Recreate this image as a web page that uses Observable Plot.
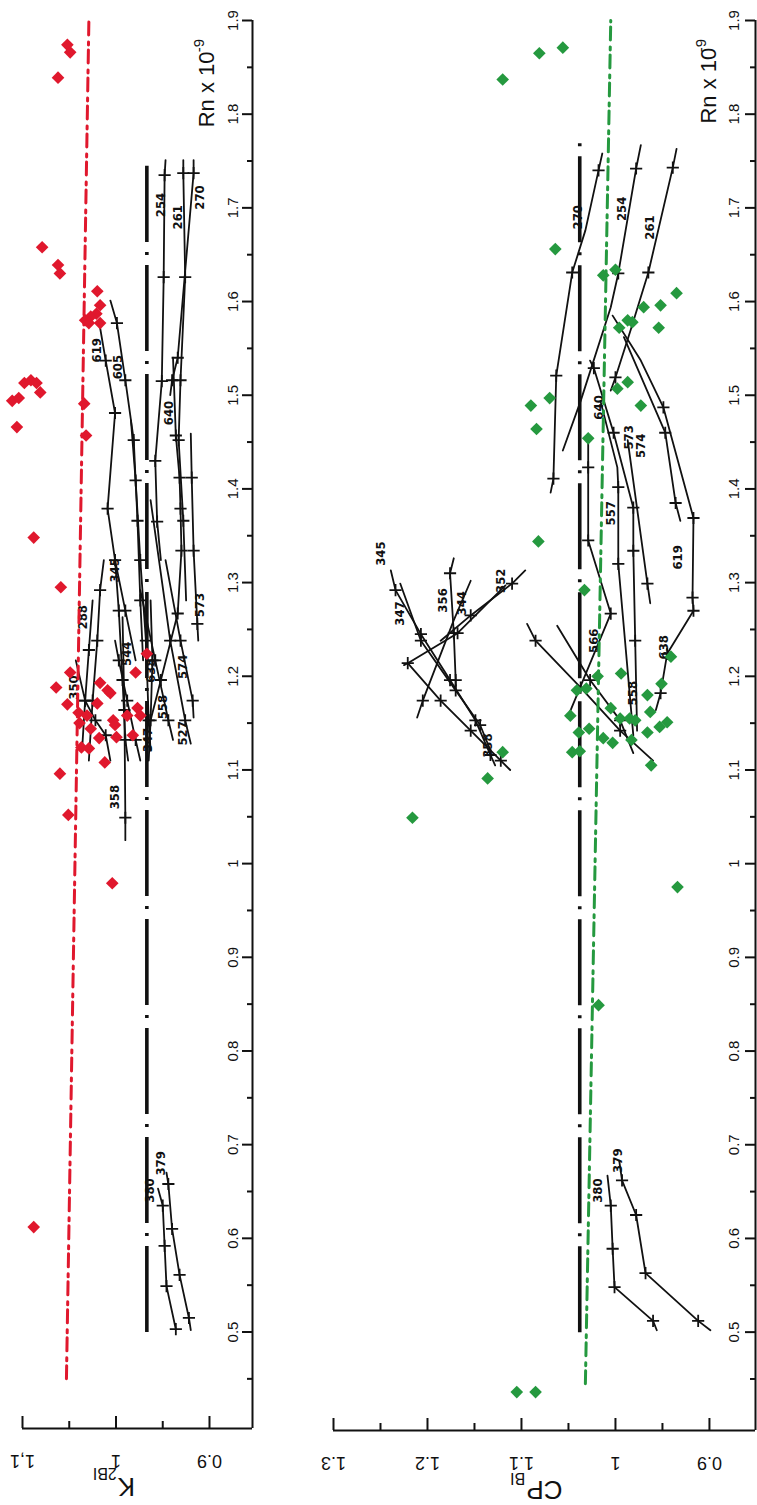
<!DOCTYPE html>
<html><head><meta charset="utf-8">
<script src="https://cdn.jsdelivr.net/npm/d3@7"></script>
<script src="https://cdn.jsdelivr.net/npm/@observablehq/plot@0.6"></script>
<style>
html,body{margin:0;padding:0;background:#fff;}
#wrap{position:relative;width:757px;height:1505px;overflow:hidden;background:#fff;}
#wrap svg{position:absolute;top:0;}
</style></head><body><div id="wrap"></div>
<script>
// ---------------- DATA ----------------
const rnMajor = [0.5,0.6,0.7,0.8,0.9,1.0,1.1,1.2,1.3,1.4,1.5,1.6,1.7,1.8,1.9];
const rnMinor = [0.45,0.55,0.65,0.75,0.85,0.95,1.05,1.15,1.25,1.35,1.45,1.55,1.65,1.75,1.85];
const kMajor = [1.1, 1.0, 0.9];
const kLabels = ["1,1", "1", "0.9"];
const kMinor = [1.05, 0.95];
const cpMajor = [1.3, 1.2, 1.1, 1.0, 0.9];
const cpLabels = ["1.3", "1.2", "1.1", "1", "0.9"];
const cpMinor = [1.25, 1.15, 1.05, 0.95];

// K2BI diamonds [K2BI, Rn]
const redPoints = [
 [1.052,1.874],[1.049,1.866],[1.062,1.839],[1.079,1.658],[1.062,1.639],[1.060,1.630],
 [1.020,1.611],[1.017,1.596],[1.021,1.587],[1.027,1.584],[1.033,1.580],[1.017,1.577],[1.029,1.577],
 [1.111,1.494],[1.104,1.497],[1.098,1.513],[1.091,1.516],[1.085,1.513],[1.081,1.503],[1.106,1.466],
 [1.034,1.491],[1.032,1.457],[1.088,1.348],[1.059,1.295],[0.967,1.224],[1.049,1.204],[1.017,1.193],
 [1.064,1.188],[1.009,1.185],[1.006,1.182],[1.020,1.171],[1.052,1.170],[0.977,1.166],[1.040,1.161],
 [1.031,1.158],[0.988,1.158],[0.974,1.158],[1.003,1.153],[1.001,1.148],[1.039,1.150],[1.027,1.144],
 [0.9995,1.135],[0.982,1.137],[1.018,1.134],[1.037,1.124],[1.029,1.123],[1.012,1.108],[1.060,1.096],
 [1.051,1.052],[1.004,0.979],[1.088,0.612],[0.979,1.204]
];
// CPBI diamonds [CPBI, Rn]
const greenPoints = [
 [1.120,1.837],[1.081,1.865],[1.056,1.871],[1.064,1.656],[1.013,1.628],[1.000,1.634],[0.935,1.609],
 [0.952,1.596],[0.970,1.594],[0.987,1.580],[0.982,1.578],[0.996,1.572],[0.954,1.572],[0.987,1.514],
 [0.998,1.507],[0.973,1.489],[1.090,1.489],[1.070,1.497],[1.084,1.464],[1.029,1.454],[1.082,1.344],
 [1.033,1.292],[0.941,1.221],[0.994,1.203],[1.019,1.200],[0.951,1.192],[1.031,1.187],[1.041,1.185],
 [0.966,1.180],[1.005,1.166],[1.048,1.158],[0.963,1.162],[0.995,1.155],[0.985,1.155],[0.979,1.153],
 [0.945,1.151],[0.953,1.146],[1.039,1.140],[1.028,1.144],[0.966,1.140],[1.013,1.134],[1.003,1.129],
 [0.983,1.132],[1.046,1.119],[1.038,1.120],[1.120,1.119],[0.962,1.105],[1.136,1.091],[1.216,1.049],
 [0.934,0.975],[1.018,0.849],[1.105,0.436],[1.085,0.436]
];
const redTrend = [[1.053,0.45],[1.029,1.9]];
const greenTrend = [[1.032,0.445],[1.005,1.9]];
const kRefLine = [[0.967,0.5],[0.967,1.745]];
const cpRefLine = [[1.038,0.5],[1.038,1.775]];

// model curves: [value, Rn, cross-marker]
const topLines = [
 {id:"254", pts:[[0.947,1.751,0],[0.948,1.735,1],[0.949,1.626,1],[0.951,1.515,1],[0.958,1.430,1],[0.956,1.365,1],[0.952,1.324,0]]},
 {id:"261", pts:[[0.928,1.751,0],[0.928,1.737,1],[0.926,1.626,1],[0.931,1.516,1],[0.933,1.452,1],[0.928,1.366,1],[0.925,1.281,0]]},
 {id:"270", pts:[[0.917,1.751,0],[0.917,1.737,1],[0.934,1.540,1],[0.940,1.516,1],[0.942,1.500,0]]},
 {id:"640", pts:[[0.939,1.540,0],[0.936,1.457,1],[0.932,1.412,1],[0.931,1.379,1],[0.930,1.334,1],[0.934,1.267,1],[0.952,1.196,1],[0.963,1.153,0]]},
 {id:"573", pts:[[0.920,1.459,0],[0.919,1.412,1],[0.917,1.334,1],[0.913,1.256,1],[0.912,1.238,0]]},
 {id:"574", pts:[[0.947,1.324,0],[0.931,1.238,1],[0.918,1.174,1],[0.917,1.156,0]]},
 {id:"527", pts:[[0.963,1.388,0],[0.942,1.238,1],[0.926,1.153,1],[0.920,1.128,0]]},
 {id:"558", pts:[[0.974,1.292,0],[0.958,1.217,1],[0.944,1.153,1],[0.939,1.132,0]]},
 {id:"638", pts:[[0.984,1.473,0],[0.979,1.409,1],[0.974,1.324,1],[0.968,1.238,1],[0.965,1.153,1],[0.963,1.121,0]]},
 {id:"605", pts:[[1.006,1.601,0],[0.999,1.577,1],[0.990,1.516,1],[0.981,1.452,1],[0.977,1.366,1],[0.974,1.281,1],[0.971,1.217,0]]},
 {id:"619", pts:[[1.017,1.572,0],[1.011,1.537,1],[1.001,1.481,1],[1.009,1.379,1],[1.001,1.324,1],[0.990,1.270,1],[0.979,1.217,0]]},
 {id:"345", pts:[[1.013,1.324,0],[1.017,1.292,1],[1.020,1.238,1],[1.025,1.174,1],[1.029,1.110,0]]},
 {id:"342", pts:[[1.001,1.324,0],[0.997,1.270,1],[0.993,1.196,1],[0.990,1.132,1],[0.987,1.110,0]]},
 {id:"358", pts:[[0.993,1.263,0],[0.991,1.164,1],[0.990,1.049,1],[0.990,1.025,0]]},
 {id:"544", pts:[[1.001,1.238,0],[0.997,1.217,1],[0.988,1.174,1],[0.979,1.132,1],[0.974,1.110,0]]},
 {id:"288", pts:[[1.025,1.281,0],[1.029,1.228,1],[1.033,1.174,1],[1.036,1.126,0]]},
 {id:"350", pts:[[1.043,1.217,0],[1.033,1.174,1],[1.022,1.153,1],[1.011,1.137,1],[1.006,1.110,0]]},
 {id:"347", pts:[[0.963,1.281,0],[0.961,1.217,1],[0.963,1.153,1],[0.965,1.110,0]]},
 {id:"380", pts:[[0.955,0.653,0],[0.950,0.635,1],[0.948,0.592,1],[0.946,0.549,1],[0.936,0.503,1]]},
 {id:"379", pts:[[0.946,0.670,0],[0.944,0.658,1],[0.940,0.610,1],[0.932,0.561,1],[0.922,0.515,1],[0.920,0.502,0]]}
];
const bottomLines = [
 {id:"270", pts:[[1.014,1.758,0],[1.018,1.740,1],[1.032,1.676,0],[1.046,1.631,1],[1.063,1.521,1],[1.066,1.411,1],[1.069,1.396,0]]},
 {id:"254", pts:[[0.973,1.767,0],[0.978,1.742,1],[0.997,1.630,1],[1.005,1.594,0],[1.037,1.494,0],[1.056,1.441,0]]},
 {id:"261", pts:[[0.935,1.763,0],[0.939,1.743,1],[0.965,1.631,1],[0.984,1.569,0],[1.000,1.519,1],[1.005,1.505,0]]},
 {id:"619", pts:[[1.003,1.585,0],[0.973,1.537,0],[0.949,1.487,1],[0.917,1.369,1],[0.918,1.284,1],[0.917,1.270,1]]},
 {id:"638", pts:[[0.917,1.270,0],[0.945,1.224,1],[0.952,1.182,1],[0.957,1.164,0]]},
 {id:"x1", pts:[[0.991,1.562,0],[0.947,1.460,1],[0.936,1.385,1],[0.931,1.366,0]]},
 {id:"573", pts:[[1.027,1.537,0],[1.023,1.529,1],[1.002,1.460,1],[0.981,1.380,1],[0.981,1.334,1],[0.979,1.238,1],[0.977,1.142,0]]},
 {id:"557", pts:[[1.016,1.494,0],[0.998,1.423,0],[0.997,1.402,1],[0.997,1.320,1],[0.981,1.137,0]]},
 {id:"558", pts:[[0.987,1.452,0],[0.966,1.299,1],[0.963,1.278,0]]},
 {id:"566", pts:[[1.029,1.452,0],[1.029,1.423,1],[1.029,1.345,1],[1.005,1.267,1],[1.051,1.156,0]]},
 {id:"d1", pts:[[1.094,1.256,0],[1.085,1.238,1],[1.037,1.188,1],[0.995,1.142,1],[0.960,1.110,0]]},
 {id:"d2", pts:[[1.062,1.254,0],[1.027,1.196,1],[0.995,1.153,1],[0.981,1.118,0]]},
 {id:"345", pts:[[1.239,1.313,0],[1.234,1.292,1],[1.207,1.245,1],[1.176,1.196,1],[1.149,1.153,1],[1.133,1.116,1],[1.128,1.105,0]]},
 {id:"347", pts:[[1.229,1.299,0],[1.207,1.238,1],[1.170,1.185,1],[1.144,1.148,1],[1.133,1.121,0]]},
 {id:"356", pts:[[1.172,1.326,0],[1.176,1.310,1],[1.172,1.246,1],[1.170,1.196,1],[1.170,1.185,0]]},
 {id:"352", pts:[[1.096,1.313,0],[1.110,1.299,1],[1.154,1.265,1],[1.186,1.238,0]]},
 {id:"344", pts:[[1.117,1.297,0],[1.168,1.246,1],[1.221,1.214,1],[1.225,1.212,0]]},
 {id:"358", pts:[[1.221,1.214,0],[1.186,1.174,1],[1.154,1.142,1],[1.122,1.110,1],[1.112,1.100,0]]},
 {id:"x3", pts:[[1.211,1.156,0],[1.205,1.174,1],[1.172,1.260,0],[1.154,1.302,0]]},
 {id:"380", pts:[[1.0085,0.667,0],[1.005,0.635,1],[1.003,0.589,1],[1.001,0.548,1],[0.960,0.512,1],[0.956,0.502,0]]},
 {id:"379", pts:[[0.996,0.683,0],[0.993,0.662,1],[0.978,0.625,1],[0.968,0.563,1],[0.912,0.512,1],[0.899,0.502,0]]}
];
// curve labels [text, value, Rn]
const topLabels = [
 ["254",0.952,1.703],["261",0.934,1.690],["270",0.910,1.711],["640",0.944,1.481],["605",0.998,1.530],
 ["619",1.020,1.548],["345",1.001,1.313],["288",1.036,1.263],["544",0.988,1.224],["638",0.963,1.206],
 ["558",0.950,1.167],["574",0.928,1.210],["573",0.910,1.276],["527",0.928,1.139],["347",0.966,1.132],
 ["358",1.001,1.071],["350",1.045,1.188],["380",0.964,0.651],["379",0.952,0.680]
];
const bottomLabels = [
 ["270",1.040,1.690],["254",0.993,1.699],["261",0.963,1.679],["640",1.018,1.487],["573",0.986,1.455],
 ["574",0.973,1.446],["557",1.005,1.374],["619",0.934,1.327],["566",1.023,1.238],["638",0.949,1.231],
 ["558",0.981,1.182],["345",1.250,1.331],["347",1.229,1.267],["356",1.184,1.281],["344",1.163,1.278],
 ["352",1.122,1.302],["358",1.136,1.126],["380",1.019,0.651],["379",0.998,0.683]
];

// ---------------- DRAW ----------------
const FONT = "Liberation Sans, Arial, Helvetica, sans-serif";
const LFONT = "DejaVu Sans Condensed, Liberation Sans Narrow, Roboto Condensed, Arial Narrow, sans-serif";

function panel(o) {
  const H = 1505, top = 20;
  const plotW = o.width - o.marginLeft - o.marginRight;
  const plotH = H - top - o.marginBottom;
  const px = (o.xDomain[1] - o.xDomain[0]) / plotW;   // value per pixel
  const py = (1.9 - o.yMin) / plotH;                  // Rn per pixel
  const xEdge = o.xDomain[0];
  const flat = o.lines.flatMap(l => l.pts.map(p => ({id: l.id, v: p[0], rn: p[1], m: p[2]})));
  const svg = Plot.plot({
    width: o.width, height: H,
    marginLeft: o.marginLeft, marginRight: o.marginRight, marginTop: top, marginBottom: o.marginBottom,
    style: {background: "transparent", overflow: "visible"},
    x: {domain: o.xDomain, reverse: true, axis: null},
    y: {domain: [o.yMin, 1.9], axis: null},
    marks: [
      // frame / axes
      Plot.ruleY([o.yMin], {x1: o.xDomain[0], x2: o.xDomain[1], stroke: "#111", strokeWidth: 2}),
      Plot.ruleX([xEdge], {y1: o.yMin, y2: 1.9, stroke: "#111", strokeWidth: 2}),
      Plot.ruleX(o.xMajor, {x: d => d, y1: o.yMin, y2: o.yMin + 12 * py, stroke: "#111", strokeWidth: 2}),
      Plot.ruleX(o.xMinor, {x: d => d, y1: o.yMin, y2: o.yMin + 7 * py, stroke: "#111", strokeWidth: 2}),
      Plot.ruleY(rnMajor, {y: d => d, x1: xEdge, x2: xEdge + 10 * px, stroke: "#111", strokeWidth: 2}),
      Plot.ruleY(rnMinor, {y: d => d, x1: xEdge, x2: xEdge + 5 * px, stroke: "#111", strokeWidth: 2}),
      Plot.text(o.xMajor, {x: d => d, y: o.yMin, text: (d, i) => o.xLabels[i], dy: 32, rotate: 180,
        fontSize: 18, fontFamily: FONT, fill: "#111"}),
      Plot.text(rnMajor, {x: xEdge, y: d => d, text: d => d === 1 ? "1" : d.toFixed(1), dx: -o.rnLabelOffset,
        rotate: -90, fontSize: 15, fontFamily: FONT, fill: "#111"}),
      // axis titles
      Plot.text([o.axisMain], {x: o.mainPos[0], y: o.yMin, dy: o.mainPos[1], text: d => d, rotate: 180,
        fontSize: 26, fontFamily: FONT, fill: "#111"}),
      Plot.text([o.axisSub], {x: o.subPos[0], y: o.yMin, dy: o.subPos[1], text: d => d, rotate: 180,
        fontSize: 16, fontFamily: FONT, fill: "#111"}),
      Plot.text(["Rn x 10"], {x: o.titlePos[0], y: o.titlePos[1], text: d => d, rotate: -90, textAnchor: "start",
        fontSize: 22, fontFamily: FONT, fill: "#111"}),
      Plot.text(["-9"], {x: o.supPos[0], y: o.supPos[1], text: d => d, rotate: -90, textAnchor: "start",
        fontSize: 15, fontFamily: FONT, fill: "#111"}),
      // reference (thick dash-dot) line
      Plot.line(o.ref, {x: d => d[0], y: d => d[1], stroke: "#111", strokeWidth: 3.6,
        strokeDasharray: "86,10,3,10", strokeLinecap: "butt"}),
      // model curves
      Plot.line(flat, {x: "v", y: "rn", z: "id", stroke: "#111", strokeWidth: 1.8}),
      Plot.dot(flat.filter(d => d.m), {x: "v", y: "rn", symbol: "plus", r: 4, stroke: "#111", strokeWidth: 1.8}),
      Plot.text(o.labels, {x: d => d[1], y: d => d[2], text: d => d[0], rotate: -90, fontSize: 13,
        fontWeight: "bold", fontFamily: LFONT, fill: "#111"}),
      // coloured trend line
      Plot.line(o.trend, {x: d => d[0], y: d => d[1], stroke: o.color, strokeWidth: 3,
        strokeDasharray: "13,5,3,7"}),
      // diamonds
      Plot.dot(o.points, {x: d => d[0], y: d => d[1], symbol: "diamond2", r: 5.7, fill: o.color, stroke: "none"})
    ]
  });
  svg.style.left = o.left + "px";
  document.getElementById("wrap").appendChild(svg);
}

panel({
  left: 0, width: 262, marginLeft: 22, marginRight: 10, marginBottom: 77,
  xDomain: [0.854, 1.1], yMin: 0.397,
  xMajor: kMajor, xMinor: kMinor, xLabels: kLabels,
  points: redPoints, color: "#e0182d", trend: redTrend, ref: kRefLine,
  lines: topLines, labels: topLabels, rnLabelOffset: 19,
  axisMain: "K", axisSub: "2BI", mainPos: [0.989, 58], subPos: [1.012, 45],
  titlePos: [0.903, 1.786], supPos: [0.911, 1.866]
});
panel({
  left: 300, width: 457, marginLeft: 33, marginRight: 2, marginBottom: 75,
  xDomain: [0.851, 1.3], yMin: 0.395,
  xMajor: cpMajor, xMinor: cpMinor, xLabels: cpLabels,
  points: greenPoints, color: "#25993f", trend: greenTrend, ref: cpRefLine,
  lines: bottomLines, labels: bottomLabels, rnLabelOffset: 21,
  axisMain: "CP", axisSub: "BI", mainPos: [1.0755, 59], subPos: [1.104, 48],
  titlePos: [0.900, 1.790], supPos: [0.909, 1.866]
});
</script></body></html>
